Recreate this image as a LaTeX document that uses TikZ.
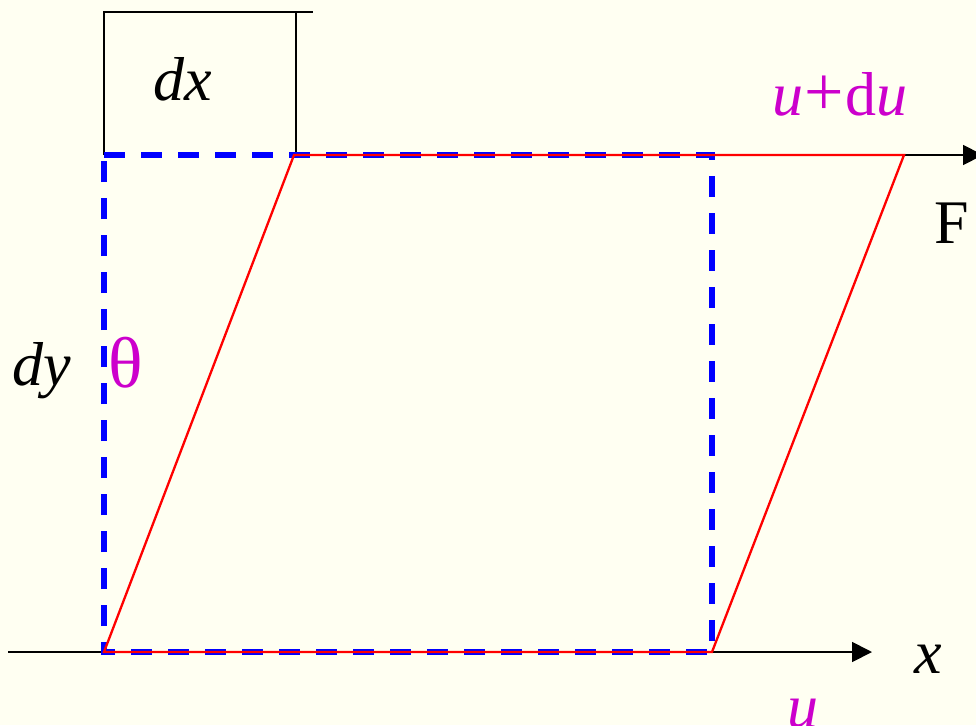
\documentclass[tikz,border=0pt]{standalone}
\usepackage{fontspec}
\setmainfont{Liberation Serif}
\usetikzlibrary{arrows.meta}
\definecolor{bg}{HTML}{FFFFF2}
\definecolor{mag}{HTML}{CC00CC}
\definecolor{blu}{HTML}{0000FF}
\definecolor{rd}{HTML}{FF0000}
\tikzset{
  blk/.style={draw=black, line width=1.8pt},
  axis/.style={blk, -{Triangle[length=20pt,width=20pt]}},
  bluedash/.style={draw=blu, line width=5.5pt, dash pattern=on 21pt off 16pt},
  redline/.style={draw=rd, line width=2.3pt, line join=miter},
  lbl/.style={anchor=base, inner sep=0pt, font=\fontsize{62}{70}\selectfont},
  mlbl/.style={lbl, text=mag},
}
\begin{document}
\begin{tikzpicture}[x=1pt,y=-1pt]
\useasboundingbox (0,0) rectangle (976,725);
\clip (0,0) rectangle (976,725);
\fill[bg] (0,0) rectangle (976,725);
% corner coordinates
\coordinate (A) at (104,155);
\coordinate (B) at (712,155);
\coordinate (C) at (712,652);
\coordinate (D) at (104,652);
\coordinate (P) at (294,155);
\coordinate (Q) at (904,155);
\coordinate (boxTL) at (104,12);
\coordinate (boxTR) at (296,12);
\coordinate (boxTE) at (313,12);
\coordinate (boxBR) at (296,155);
\coordinate (axL) at (8,652);
\coordinate (axR) at (872,652);
\coordinate (fR) at (983,155);
% dx box
\draw[blk] (A) -- (boxTL) -- (boxTE);
\draw[blk] (boxTR) -- (boxBR);
% axes
\draw[axis] (axL) -- (axR);
\draw[axis] (Q) -- (fR);
% blue dashed rectangle
\draw[bluedash] (A) -- (B) -- (C) -- (D) -- cycle;
% red parallelogram
\draw[redline] (D) -- (P) -- (Q) -- (C) -- cycle;
% labels
\node[lbl] (dx) at (183,100) {\itshape dx};
\node[lbl] (dy) at (42,385) {\itshape dy};
\node[mlbl, font=\fontsize{72}{80}\selectfont] (th) at (126,387) {θ};
\node[mlbl] (udu) at (840,115) {\itshape u\kern1pt\upshape{\fontsize{70}{70}\selectfont +}\kern1pt d\itshape u};
\node[lbl] (F) at (952,243) {F};
\node[lbl] (x) at (928,673) {\itshape x};
\node[mlbl] (u) at (803,727) {\itshape u};
\end{tikzpicture}
\end{document}
